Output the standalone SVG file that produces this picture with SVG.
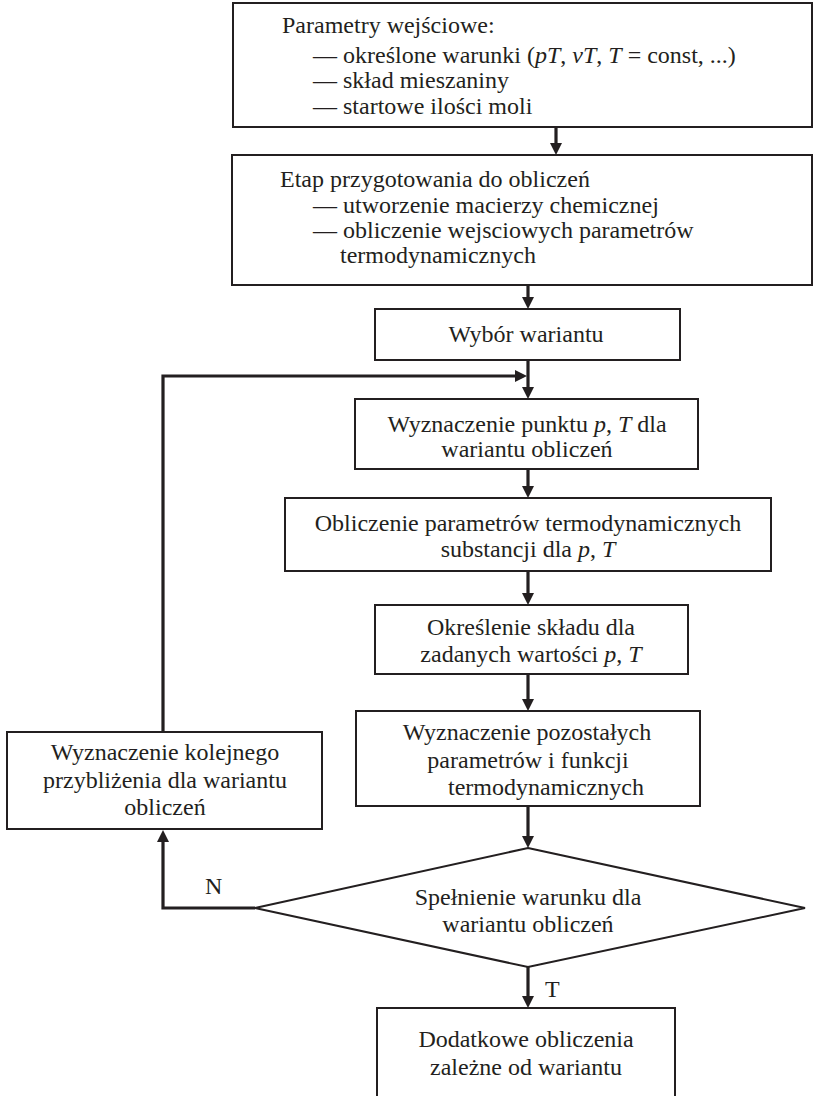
<svg xmlns="http://www.w3.org/2000/svg" width="813" height="1096" viewBox="0 0 813 1096">
<defs>
<marker id="ah" markerUnits="userSpaceOnUse" markerWidth="14" markerHeight="14" refX="8" refY="6" orient="auto">
<path d="M0,0 L12,6 L0,12 z" fill="#231f20"/>
</marker>
<style>
.box{fill:#fff;stroke:#231f20;stroke-width:2}
.t{font-family:"Liberation Serif","Times New Roman",serif;font-size:24px;fill:#231f20}
.c{text-anchor:middle}
.i{font-style:italic}
.con{fill:none;stroke:#231f20;stroke-width:3.2}
</style>
</defs>
<rect width="813" height="1096" fill="#fff"/>
<g id="connectors">
<path class="con" d="M556,127 V151" marker-end="url(#ah)"/>
<path class="con" d="M528,285 V305" marker-end="url(#ah)"/>
<path class="con" d="M528,360 V395" marker-end="url(#ah)"/>
<path class="con" d="M163,731 V376 H523" marker-end="url(#ah)"/>
<path class="con" d="M528,469 V494" marker-end="url(#ah)"/>
<path class="con" d="M528,571 V601" marker-end="url(#ah)"/>
<path class="con" d="M528,674 V707" marker-end="url(#ah)"/>
<path class="con" d="M528,806 V844" marker-end="url(#ah)"/>
<path class="con" d="M255,908 H163 V834" marker-end="url(#ah)"/>
<path class="con" d="M528,967 V1004" marker-end="url(#ah)"/>
<text class="t" x="205" y="894">N</text>
<text class="t" x="545" y="997">T</text>
</g>
<g id="n1">
<rect class="box" x="233" y="3" width="579" height="124"/>
<text class="t" x="282" y="33">Parametry wejściowe:</text>
<text class="t" x="313" y="63">— określone warunki (<tspan class="i">pT</tspan>, <tspan class="i">νT</tspan>, <tspan class="i">T</tspan> = const, ...)</text>
<text class="t" x="313" y="88">— skład mieszaniny</text>
<text class="t" x="313" y="114">— startowe ilości moli</text>
</g>
<g id="n2">
<rect class="box" x="232" y="155" width="580" height="130"/>
<text class="t" x="280" y="187">Etap przygotowania do obliczeń</text>
<text class="t" x="313" y="213">— utworzenie macierzy chemicznej</text>
<text class="t" x="313" y="238">— obliczenie wejsciowych parametrów</text>
<text class="t" x="340" y="263">termodynamicznych</text>
</g>
<g id="n3">
<rect class="box" x="375" y="309" width="305" height="51"/>
<text class="t c" x="526" y="342">Wybór wariantu</text>
</g>
<g id="n4">
<rect class="box" x="355" y="399" width="343" height="70"/>
<text class="t c" x="527" y="432">Wyznaczenie punktu <tspan class="i">p</tspan>, <tspan class="i">T</tspan> dla</text>
<text class="t c" x="527" y="457">wariantu obliczeń</text>
</g>
<g id="n5">
<rect class="box" x="285" y="498" width="486" height="73"/>
<text class="t c" x="528" y="531">Obliczenie parametrów termodynamicznych</text>
<text class="t c" x="528" y="557">substancji dla <tspan class="i">p</tspan>, <tspan class="i">T</tspan></text>
</g>
<g id="n6">
<rect class="box" x="375" y="605" width="313" height="69"/>
<text class="t c" x="531" y="635">Określenie składu dla</text>
<text class="t c" x="531" y="662">zadanych wartości <tspan class="i">p</tspan>,  <tspan class="i">T</tspan></text>
</g>
<g id="n7">
<rect class="box" x="356" y="711" width="344" height="95"/>
<text class="t c" x="527" y="740">Wyznaczenie pozostałych</text>
<text class="t c" x="528" y="768">parametrów i funkcji</text>
<text class="t c" x="546" y="795">termodynamicznych</text>
</g>
<g id="n8">
<rect class="box" x="7" y="732" width="315" height="97"/>
<text class="t c" x="165" y="760">Wyznaczenie kolejnego</text>
<text class="t c" x="165" y="788">przybliżenia dla wariantu</text>
<text class="t c" x="165" y="815">obliczeń</text>
</g>
<g id="n9">
<polygon class="box" points="528,848 805,908 528,967 255,908"/>
<text class="t c" x="528" y="905">Spełnienie warunku dla</text>
<text class="t c" x="528" y="932">wariantu obliczeń</text>
</g>
<g id="n10">
<rect class="box" x="377" y="1008" width="298" height="100"/>
<text class="t c" x="526" y="1047">Dodatkowe obliczenia</text>
<text class="t c" x="526" y="1075">zależne od wariantu</text>
</g>
</svg>
